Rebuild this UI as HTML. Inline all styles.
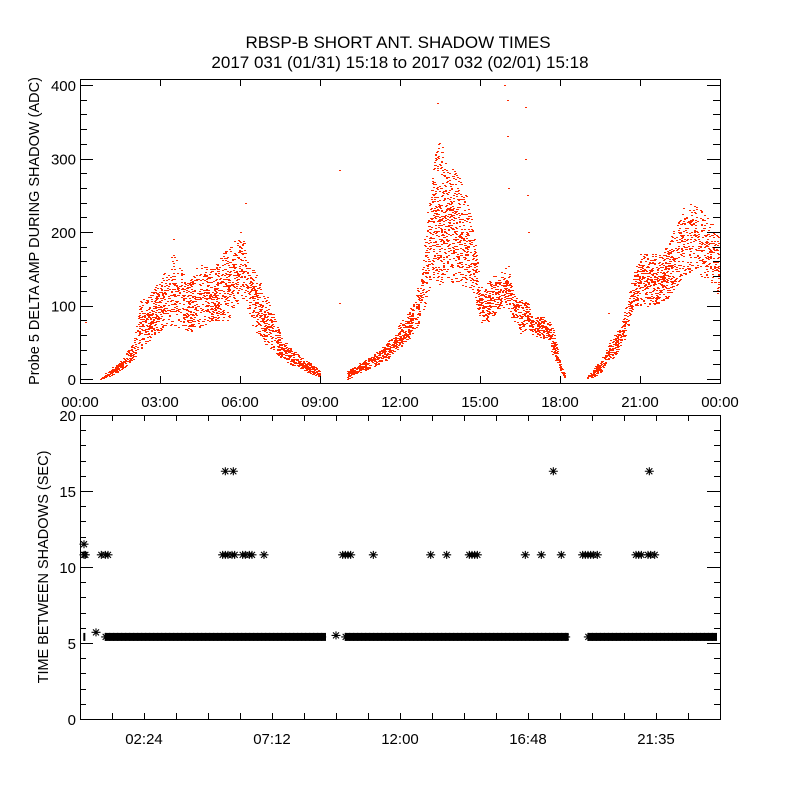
<!DOCTYPE html>
<html><head><meta charset="utf-8"><style>
html,body{margin:0;padding:0;background:#fff;}
svg{display:block;font-family:"Liberation Sans",sans-serif;}
</style></head><body>
<svg id="chart" width="800" height="800" viewBox="0 0 800 800" xmlns="http://www.w3.org/2000/svg">
<rect width="800" height="800" fill="#fff"/>
<text x="398" y="48" font-size="17" text-anchor="middle">RBSP-B SHORT ANT. SHADOW TIMES</text>
<text x="400" y="68" font-size="17" text-anchor="middle">2017 031 (01/31) 15:18 to 2017 032 (02/01) 15:18</text>
<g id="topPanel"></g>
<g id="botPanel"></g>
</svg>
<script>
// ---- top panel data: time (hours), lower / upper envelope of amplitude (ADC)
const ampHours = [0.75,1.0,1.5,2.0,2.25,2.5,3.0,3.5,4.0,4.5,5.0,5.5,6.0,6.5,7.0,7.5,8.0,8.5,9.0,
  10.0,10.5,11.0,11.5,12.0,12.5,12.75,13.0,13.25,13.5,13.75,14.0,14.25,14.5,14.75,15.0,15.25,15.5,15.75,16.0,16.25,16.5,16.75,17.0,17.5,17.75,18.0,18.2,
  19.0,19.5,19.75,20.0,20.25,20.5,20.75,21.0,21.5,22.0,22.5,23.0,23.5,23.95];
const ampLow  = [0,3,12,25,40,50,67,75,63,70,80,80,110,70,44,30,18,10,3,
  0,10,17,27,44,62,82,112,139,125,139,130,130,125,115,77,77,87,95,100,77,63,70,60,55,30,10,0,
  0,8,25,30,44,63,95,100,100,110,135,150,130,110];
const ampHigh = [3,10,25,50,107,110,135,175,130,160,150,180,200,150,112,60,38,26,10,
  12,22,35,50,76,103,140,230,300,330,290,290,270,245,205,125,130,140,145,160,120,110,105,85,85,70,20,5,
  5,25,45,60,70,110,140,175,170,180,230,240,220,200];
const isoHours = [9.7,9.7,13.4,15.9,16.0,16.7,19.8,0.2,14.4,3.5,6.2,16.0,16.05,16.7,16.75,16.8];
const isoValues = [285,104,375,400,380,370,90,78,230,190,240,330,260,300,250,200];
// ---- bottom panel data
const stripSegments = [[0.05,0.25],[0.85,9.3],[9.85,18.4],[18.95,24.0]];
const stripValue = 5.4;
const lowHours = [0.6,9.6];
const lowValues = [5.7,5.5];
const midHours = [0.05,0.2,0.8,0.95,1.05,5.35,5.45,5.55,5.7,5.8,6.1,6.2,6.35,6.45,6.9,9.85,9.95,10.05,10.15,11.0,13.15,13.75,14.6,14.7,14.8,14.9,16.7,17.3,18.05,18.85,18.95,19.05,19.15,19.25,19.4,20.85,20.95,21.05,21.3,21.4,21.55];
const midValue = 10.8;
const highHours = [0.15,5.45,5.75,17.75,21.35];
const highValues = [11.5,16.3,16.3,16.3,16.3];
const topTickLabels = ["00:00","03:00","06:00","09:00","12:00","15:00","18:00","21:00","00:00"];
const topYTicks = [0,100,200,300,400];
const botTickLabels = ["02:24","07:12","12:00","16:48","21:35"];
const botYTicks = [0,5,10,15,20];

const NS="http://www.w3.org/2000/svg";
function mk(tag,attrs,parent){const e=document.createElementNS(NS,tag);for(const k in attrs)e.setAttribute(k,attrs[k]);parent.appendChild(e);return e;}
const X0=80,X1=720;
const xh=h=>X0+(h/24)*(X1-X0);
const T0=79,T1=383;
const yA=v=>379-v*0.735;
const B0=415,B1=719;
const yB=v=>B1-(v/20)*(B1-B0);

const topG=document.getElementById('topPanel');
const botG=document.getElementById('botPanel');

// ---- top scatter: per pixel column, envelope from neighbouring samples
const dots=mk('g',{fill:'#ff2a00','shape-rendering':'crispEdges'},topG);


function hash(a,b){let h=(a*374761393+b*668265263)>>>0;h=((h^(h>>>13))*1274126177)>>>0;h=(h^(h>>>16))>>>0;return (h%10007)/10007;}
let d='';
for(let i=0;i<ampHours.length-1;i++){
  const h0=ampHours[i],h1=ampHours[i+1];
  if(h1-h0>0.6)continue;
  const xa=Math.round(xh(h0)), xb=Math.round(xh(h1));
  for(let x=xa;x<xb;x++){
    const t=(x-xa)/Math.max(1,xb-xa);
    const lo=ampLow[i]+(ampLow[i+1]-ampLow[i])*t;
    const hi=ampHigh[i]+(ampHigh[i+1]-ampHigh[i])*t;
    const ya=Math.round(yA(hi)), yb=Math.round(yA(lo));
    const span=yb-ya;
    const dens=span<12?0.55:(span<30?0.35:(span<60?0.22:0.14));
    for(let y=ya;y<=yb;y++){
      const mid=1-Math.abs((y-ya)/Math.max(1,span)-0.55)*1.1;
      if(hash(x,y)<dens*Math.max(0.15,mid)*1.3) d+=`M${x},${y}h2v1h-2z`;
    }
  }
}
isoHours.forEach((h,i)=>{d+=`M${Math.round(xh(h))},${Math.round(yA(isoValues[i]))}h2v1h-2z`;});
mk('path',{d:d},dots);

// ---- top axes box & ticks
const ax=mk('g',{stroke:'#000','stroke-width':1,fill:'none'},topG);


mk('rect',{x:X0+0.5,y:T0+0.5,width:X1-X0,height:T1-T0},ax);
for(let i=0;i<=8;i++){const x=Math.round(X0+i*80)+0.5;mk('line',{x1:x,y1:T0,x2:x,y2:T0+7},ax);mk('line',{x1:x,y1:T1,x2:x,y2:T1-7},ax);}
for(let v=0;v<=400;v+=20){const y=Math.round(yA(v))+0.5;const L=v%100===0?13:7;mk('line',{x1:X0,y1:y,x2:X0+L,y2:y},ax);mk('line',{x1:X1,y1:y,x2:X1-L,y2:y},ax);}
topTickLabels.forEach((t,i)=>{const e=mk('text',{x:X0+i*80,y:407,'font-size':15,'text-anchor':'middle',fill:'#000'},topG);e.textContent=t;
  
  });
topYTicks.forEach(v=>{const e=mk('text',{x:76,y:yA(v)+6,'font-size':15,'text-anchor':'end',fill:'#000'},topG);e.textContent=v;
  
  });
const yt=mk('text',{x:0,y:0,'font-size':14.5,'text-anchor':'middle',fill:'#000',transform:'translate(39,231) rotate(-90)'},topG);
yt.textContent='Probe 5 DELTA AMP DURING SHADOW (ADC)';



// ---- bottom asterisks
const marks=mk('g',{stroke:'#000','stroke-width':1.1,fill:'none'},botG);


function star(cx,cy){
  const p=`M${cx-4.5},${cy}H${cx+4.5}M${cx},${cy-4}V${cy+4}M${cx-3},${cy-3}L${cx+3},${cy+3}M${cx-3},${cy+3}L${cx+3},${cy-3}`;
  mk('path',{d:p},marks);
}
stripSegments.forEach(s=>{
  const xa=Math.max(X0+4,xh(s[0])+3), xb=Math.min(xh(s[1])-3,X1-4);
  mk('rect',{x:xa-1,y:yB(stripValue)-4,width:Math.max(2,xb-xa+2),height:8,fill:'#000',stroke:'none'},marks);
  for(let x=xa;x<=xb;x+=4)star(x,yB(stripValue));
});
lowHours.forEach((h,i)=>star(Math.max(X0+4,xh(h)),yB(lowValues[i])));
midHours.forEach(h=>star(Math.max(X0+4,xh(h)),yB(midValue)));
highHours.forEach((h,i)=>star(Math.max(X0+4,xh(h)),yB(highValues[i])));

const bx=mk('g',{stroke:'#000','stroke-width':1,fill:'none'},botG);


mk('rect',{x:X0+0.5,y:B0+0.5,width:X1-X0,height:B1-B0},bx);
for(let x=X0+32;x<X1;x+=32){mk('line',{x1:x+0.5,y1:B1,x2:x+0.5,y2:B1-6},bx);mk('line',{x1:x+0.5,y1:B0,x2:x+0.5,y2:B0+6},bx);}
for(let v=0;v<=20;v++){const y=Math.round(yB(v))+0.5;const L=v%5===0?13:6;mk('line',{x1:X0,y1:y,x2:X0+L,y2:y},bx);mk('line',{x1:X1,y1:y,x2:X1-L,y2:y},bx);}
botTickLabels.forEach((t,i)=>{const e=mk('text',{x:144+i*128,y:744,'font-size':15,'text-anchor':'middle',fill:'#000'},botG);e.textContent=t;
  
  });
botYTicks.forEach(v=>{const e=mk('text',{x:76,y:yB(v)+6,'font-size':15,'text-anchor':'end',fill:'#000'},botG);e.textContent=v;
  
  });
const bt=mk('text',{x:0,y:0,'font-size':14.5,'text-anchor':'middle',fill:'#000',transform:'translate(48,567) rotate(-90)'},botG);
bt.textContent='TIME BETWEEN SHADOWS (SEC)';


</script>
</body></html>
